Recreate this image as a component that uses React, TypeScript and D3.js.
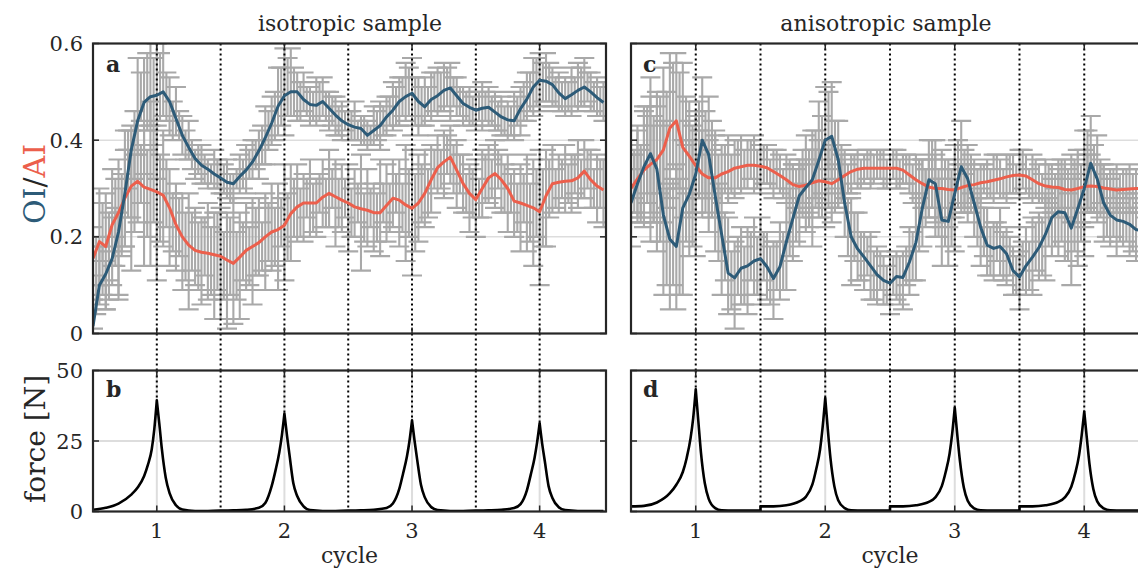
import React from 'react';
import * as d3 from 'd3';

// ---------- data ----------
// smoothed lines and first raw set: cycle grid 0.50, 0.55, ... 4.50
// second raw set: cycle grid 0.525, 0.575, ... 4.475
const X_START = 0.5;
const X_STEP = 0.05;
const X_START2 = 0.525;

const OI_A = [0.015,0.10,0.123,0.155,0.21,0.29,0.38,0.44,0.478,0.49, 0.493,0.50,0.48,0.445,0.41,0.385,0.362,0.348,0.34,0.33, 0.322,0.313,0.31,0.325,0.338,0.355,0.378,0.405,0.435,0.47, 0.492,0.50,0.50,0.484,0.474,0.472,0.48,0.466,0.452,0.44, 0.432,0.427,0.424,0.41,0.42,0.43,0.448,0.462,0.48,0.49, 0.497,0.48,0.469,0.484,0.492,0.503,0.508,0.492,0.476,0.468, 0.462,0.466,0.468,0.458,0.448,0.442,0.44,0.465,0.485,0.51, 0.524,0.522,0.515,0.498,0.486,0.494,0.503,0.51,0.50,0.488, 0.478];
const AI_A = [0.155,0.19,0.18,0.225,0.25,0.28,0.305,0.315,0.303,0.298, 0.293,0.286,0.26,0.225,0.2,0.183,0.172,0.168,0.166,0.163, 0.16,0.152,0.145,0.158,0.172,0.18,0.188,0.2,0.21,0.215, 0.224,0.248,0.262,0.27,0.27,0.27,0.282,0.29,0.283,0.276, 0.27,0.262,0.258,0.255,0.25,0.25,0.265,0.28,0.276,0.266, 0.259,0.27,0.29,0.318,0.343,0.355,0.365,0.338,0.31,0.29, 0.277,0.3,0.322,0.331,0.318,0.3,0.274,0.27,0.265,0.26, 0.252,0.285,0.31,0.313,0.315,0.316,0.322,0.336,0.318,0.305, 0.297];
const OI_A_RAW = [0.04,0.12,0.10,0.17,0.16,0.28,0.33,0.47,0.45,0.52, 0.46,0.53,0.47,0.46,0.41,0.40,0.35,0.35,0.33,0.34, 0.31,0.32,0.30,0.33,0.34,0.36,0.37,0.41,0.44,0.48, 0.50,0.52,0.49,0.50,0.47,0.48,0.49,0.46,0.45,0.44, 0.43,0.44,0.42,0.41,0.43,0.43,0.45,0.47,0.48,0.50, 0.49,0.47,0.48,0.49,0.50,0.51,0.50,0.49,0.47,0.47, 0.46,0.47,0.47,0.46,0.45,0.44,0.45,0.46,0.49,0.51, 0.52,0.53,0.51,0.50,0.49,0.50,0.51,0.52,0.50,0.49, 0.48];
const OI_A_ERR = [0.03,0.06,0.05,0.07,0.09,0.10,0.09,0.10,0.12,0.09, 0.14,0.08,0.06,0.05,0.04,0.04,0.03,0.04,0.03,0.04, 0.05,0.04,0.03,0.04,0.05,0.04,0.05,0.06,0.05,0.07, 0.09,0.07,0.05,0.04,0.04,0.05,0.04,0.04,0.04,0.04, 0.03,0.04,0.03,0.03,0.04,0.05,0.04,0.05,0.05,0.06, 0.08,0.06,0.05,0.05,0.05,0.05,0.06,0.04,0.04,0.04, 0.04,0.05,0.04,0.04,0.04,0.04,0.05,0.05,0.05,0.06, 0.06,0.05,0.04,0.04,0.04,0.05,0.05,0.05,0.04,0.04, 0.04];
const OI_A_RAW2 = [0.08,0.13,0.12,0.20,0.23,0.36,0.39,0.49,0.50,0.48, 0.51,0.49,0.44,0.43,0.39,0.37,0.36,0.34,0.33,0.33, 0.32,0.30,0.32,0.33,0.35,0.37,0.39,0.42,0.45,0.49, 0.51,0.50,0.48,0.48,0.47,0.48,0.47,0.46,0.44,0.44, 0.43,0.42,0.42,0.41,0.43,0.44,0.46,0.47,0.49,0.50, 0.48,0.47,0.48,0.50,0.50,0.51,0.50,0.48,0.47,0.46, 0.47,0.47,0.46,0.45,0.44,0.44,0.46,0.48,0.50,0.52, 0.52,0.52,0.50,0.49,0.49,0.50,0.51,0.51,0.49,0.48];
const OI_A_ERR2 = [0.04,0.05,0.05,0.06,0.07,0.06,0.07,0.05,0.08,0.09, 0.07,0.05,0.04,0.03,0.03,0.03,0.03,0.03,0.02,0.03, 0.03,0.03,0.02,0.03,0.03,0.03,0.04,0.04,0.05,0.06, 0.06,0.05,0.04,0.03,0.03,0.04,0.03,0.03,0.03,0.02, 0.03,0.02,0.03,0.02,0.03,0.03,0.03,0.04,0.04,0.05, 0.05,0.04,0.03,0.04,0.04,0.04,0.03,0.03,0.03,0.03, 0.03,0.03,0.03,0.03,0.03,0.03,0.03,0.04,0.04,0.05, 0.04,0.04,0.03,0.03,0.03,0.03,0.04,0.03,0.03,0.03];
const AI_A_RAW = [0.16,0.20,0.17,0.24,0.22,0.30,0.28,0.33,0.28,0.31, 0.27,0.30,0.24,0.22,0.19,0.17,0.18,0.15,0.17,0.14, 0.16,0.13,0.15,0.14,0.18,0.17,0.20,0.19,0.22,0.20, 0.23,0.25,0.27,0.26,0.28,0.26,0.29,0.30,0.27,0.28, 0.26,0.27,0.25,0.26,0.24,0.26,0.27,0.29,0.27,0.27, 0.25,0.28,0.30,0.32,0.35,0.35,0.37,0.33,0.31,0.28, 0.28,0.31,0.33,0.33,0.31,0.29,0.27,0.26,0.27,0.25, 0.24,0.28,0.32,0.31,0.32,0.31,0.33,0.34,0.32,0.30, 0.29];
const AI_A_ERR = [0.06,0.10,0.12,0.10,0.14,0.12,0.15,0.10,0.14,0.17, 0.16,0.12,0.10,0.09,0.10,0.12,0.08,0.09,0.10,0.11, 0.13,0.12,0.13,0.11,0.09,0.11,0.08,0.10,0.09,0.11, 0.12,0.10,0.08,0.07,0.08,0.06,0.07,0.08,0.09,0.07, 0.09,0.07,0.12,0.08,0.07,0.10,0.08,0.07,0.09,0.12, 0.13,0.09,0.08,0.07,0.06,0.07,0.06,0.07,0.06,0.07, 0.08,0.07,0.06,0.07,0.06,0.08,0.07,0.09,0.10,0.11, 0.14,0.10,0.07,0.06,0.07,0.06,0.07,0.06,0.06,0.07, 0.07];
const AI_A_RAW2 = [0.15,0.21,0.18,0.26,0.25,0.31,0.29,0.33,0.29,0.31, 0.28,0.29,0.23,0.22,0.18,0.19,0.16,0.18,0.15,0.17, 0.14,0.16,0.14,0.17,0.16,0.19,0.18,0.21,0.20,0.23, 0.22,0.26,0.25,0.28,0.26,0.29,0.27,0.30,0.27,0.28, 0.25,0.27,0.24,0.26,0.24,0.27,0.26,0.29,0.26,0.27, 0.25,0.29,0.29,0.34,0.34,0.37,0.34,0.33,0.29,0.29, 0.28,0.32,0.32,0.34,0.30,0.29,0.26,0.28,0.25,0.27, 0.26,0.30,0.30,0.32,0.31,0.33,0.32,0.34,0.30,0.31];
const AI_A_ERR2 = [0.05,0.06,0.07,0.06,0.08,0.07,0.08,0.06,0.09,0.08, 0.09,0.07,0.06,0.06,0.07,0.06,0.07,0.06,0.07,0.08, 0.07,0.08,0.07,0.06,0.06,0.07,0.05,0.06,0.06,0.05, 0.07,0.06,0.05,0.04,0.05,0.04,0.05,0.04,0.05,0.04, 0.05,0.04,0.05,0.04,0.05,0.04,0.05,0.04,0.05,0.07, 0.08,0.06,0.05,0.04,0.04,0.04,0.05,0.04,0.04,0.05, 0.04,0.05,0.04,0.04,0.05,0.04,0.05,0.05,0.06,0.07, 0.08,0.06,0.04,0.04,0.04,0.04,0.04,0.04,0.04,0.05];

const OI_C = [0.27,0.31,0.345,0.372,0.34,0.245,0.195,0.18,0.26,0.288, 0.33,0.40,0.37,0.285,0.205,0.125,0.115,0.135,0.14,0.15, 0.155,0.138,0.114,0.138,0.19,0.238,0.285,0.302,0.318,0.358, 0.40,0.408,0.36,0.27,0.20,0.175,0.158,0.14,0.122,0.11, 0.104,0.118,0.116,0.148,0.188,0.26,0.318,0.31,0.235,0.232, 0.29,0.345,0.32,0.27,0.22,0.183,0.176,0.18,0.165,0.13, 0.117,0.14,0.158,0.178,0.205,0.24,0.252,0.25,0.218,0.258, 0.30,0.352,0.32,0.27,0.245,0.235,0.232,0.226,0.215,0.212, 0.21];
const AI_C = [0.30,0.32,0.338,0.35,0.36,0.38,0.425,0.44,0.385,0.367, 0.347,0.33,0.322,0.322,0.33,0.335,0.342,0.345,0.348,0.348, 0.346,0.343,0.335,0.327,0.318,0.308,0.304,0.307,0.312,0.316, 0.314,0.31,0.318,0.327,0.335,0.34,0.342,0.342,0.342,0.342, 0.342,0.342,0.338,0.328,0.318,0.31,0.303,0.30,0.30,0.298, 0.297,0.302,0.306,0.308,0.312,0.314,0.317,0.32,0.324,0.327, 0.328,0.326,0.318,0.31,0.305,0.303,0.302,0.298,0.297,0.30, 0.304,0.305,0.304,0.301,0.299,0.297,0.298,0.299,0.30,0.30, 0.30];
const OI_C_RAW = [0.26,0.33,0.34,0.39,0.32,0.26,0.18,0.20,0.24,0.30, 0.31,0.41,0.35,0.29,0.19,0.14,0.10,0.14,0.13,0.16, 0.15,0.14,0.11,0.15,0.18,0.25,0.27,0.31,0.30,0.37, 0.39,0.42,0.35,0.28,0.19,0.18,0.15,0.14,0.12,0.11, 0.10,0.12,0.11,0.15,0.19,0.27,0.32,0.30,0.23,0.24, 0.28,0.35,0.31,0.27,0.22,0.19,0.17,0.19,0.16,0.13, 0.11,0.15,0.16,0.18,0.20,0.24,0.25,0.25,0.21,0.26, 0.29,0.35,0.32,0.27,0.25,0.23,0.24,0.22,0.22,0.21, 0.21];
const OI_C_ERR = [0.08,0.10,0.12,0.14,0.15,0.18,0.13,0.15,0.16,0.14, 0.15,0.12,0.14,0.12,0.11,0.10,0.09,0.08,0.09,0.08, 0.09,0.07,0.08,0.08,0.09,0.10,0.09,0.10,0.12,0.11, 0.12,0.10,0.09,0.08,0.09,0.07,0.06,0.07,0.06,0.05, 0.06,0.05,0.06,0.07,0.08,0.09,0.08,0.10,0.09,0.10, 0.11,0.09,0.08,0.07,0.08,0.07,0.06,0.07,0.06,0.05, 0.06,0.07,0.08,0.07,0.09,0.08,0.09,0.10,0.11,0.12, 0.13,0.10,0.09,0.08,0.07,0.07,0.06,0.06,0.07,0.06, 0.06];
const OI_C_RAW2 = [0.31,0.31,0.38,0.33,0.31,0.20,0.21,0.20,0.29,0.29, 0.38,0.37,0.34,0.23,0.18,0.11,0.14,0.12,0.16,0.14, 0.16,0.12,0.14,0.15,0.23,0.25,0.31,0.30,0.35,0.37, 0.42,0.37,0.33,0.22,0.20,0.16,0.16,0.12,0.13,0.10, 0.12,0.11,0.14,0.16,0.23,0.28,0.33,0.26,0.25,0.25, 0.33,0.32,0.31,0.23,0.21,0.17,0.19,0.16,0.16,0.12, 0.14,0.14,0.18,0.18,0.23,0.24,0.26,0.22,0.25,0.27, 0.34,0.32,0.30,0.25,0.25,0.23,0.24,0.21,0.22,0.20];
const OI_C_ERR2 = [0.06,0.08,0.09,0.10,0.12,0.10,0.11,0.12,0.10,0.11, 0.10,0.09,0.10,0.08,0.07,0.06,0.06,0.06,0.05,0.06, 0.05,0.06,0.05,0.06,0.07,0.06,0.07,0.08,0.07,0.08, 0.08,0.07,0.06,0.06,0.05,0.05,0.04,0.05,0.04,0.04, 0.04,0.05,0.04,0.05,0.06,0.06,0.07,0.06,0.07,0.07, 0.07,0.06,0.06,0.05,0.05,0.05,0.04,0.05,0.04,0.04, 0.05,0.05,0.05,0.06,0.05,0.06,0.07,0.07,0.08,0.08, 0.08,0.07,0.06,0.05,0.05,0.04,0.05,0.04,0.04,0.04];
const AI_C_RAW = [0.31,0.33,0.35,0.34,0.37,0.39,0.43,0.44,0.40,0.36, 0.35,0.33,0.32,0.33,0.33,0.34,0.34,0.35,0.35,0.35, 0.34,0.35,0.33,0.33,0.32,0.31,0.30,0.31,0.31,0.32, 0.31,0.31,0.32,0.33,0.33,0.34,0.34,0.34,0.35,0.34, 0.34,0.34,0.34,0.33,0.32,0.31,0.30,0.30,0.30,0.29, 0.30,0.30,0.31,0.31,0.31,0.32,0.32,0.32,0.32,0.33, 0.33,0.33,0.32,0.31,0.31,0.30,0.30,0.30,0.30,0.30, 0.30,0.31,0.30,0.30,0.30,0.30,0.30,0.30,0.30,0.30, 0.30];
const AI_C_ERR = [0.06,0.09,0.12,0.15,0.13,0.16,0.15,0.14,0.16,0.12, 0.10,0.09,0.08,0.09,0.06,0.07,0.06,0.06,0.05,0.06, 0.05,0.04,0.05,0.04,0.05,0.04,0.05,0.05,0.07,0.08, 0.09,0.08,0.06,0.05,0.04,0.04,0.03,0.04,0.03,0.04, 0.03,0.04,0.03,0.04,0.05,0.05,0.06,0.07,0.08,0.07, 0.06,0.05,0.04,0.05,0.04,0.04,0.05,0.04,0.05,0.04, 0.05,0.04,0.05,0.04,0.05,0.05,0.06,0.06,0.07,0.07, 0.08,0.06,0.05,0.05,0.04,0.05,0.04,0.05,0.04,0.05, 0.04];
const AI_C_RAW2 = [0.33,0.31,0.36,0.34,0.39,0.38,0.45,0.42,0.39,0.34, 0.35,0.31,0.33,0.31,0.34,0.33,0.35,0.34,0.36,0.34, 0.35,0.33,0.34,0.31,0.32,0.30,0.31,0.30,0.32,0.30, 0.32,0.30,0.33,0.32,0.34,0.33,0.35,0.34,0.35,0.33, 0.35,0.33,0.34,0.31,0.32,0.30,0.31,0.29,0.31,0.29, 0.31,0.29,0.32,0.30,0.32,0.31,0.33,0.31,0.33,0.32, 0.34,0.31,0.32,0.30,0.31,0.29,0.31,0.29,0.31,0.29, 0.31,0.30,0.31,0.29,0.31,0.29,0.31,0.29,0.31,0.29];
const AI_C_ERR2 = [0.05,0.07,0.09,0.11,0.10,0.12,0.11,0.12,0.10,0.09, 0.07,0.06,0.05,0.06,0.05,0.04,0.05,0.04,0.04,0.04, 0.04,0.03,0.04,0.03,0.04,0.04,0.04,0.05,0.06,0.06, 0.06,0.05,0.04,0.03,0.03,0.03,0.03,0.03,0.03,0.03, 0.03,0.03,0.03,0.04,0.04,0.04,0.05,0.05,0.05,0.05, 0.04,0.04,0.03,0.04,0.03,0.03,0.04,0.03,0.04,0.03, 0.04,0.03,0.04,0.03,0.04,0.04,0.05,0.05,0.05,0.06, 0.06,0.05,0.04,0.04,0.03,0.04,0.03,0.04,0.03,0.04];

// force: sampled at cycle + offset, one array per cycle
const CYCLES = [1, 2, 3, 4];
const FORCE_OFFSETS = [-0.5,-0.4,-0.3,-0.2,-0.15,-0.1,-0.07,-0.04,-0.02,0,0.02,0.04,0.07,0.1,0.15,0.2,0.3,0.4,0.5];
const FORCE_B = [
  [0.6,1.3,2.8,6,8.5,12.5,16.5,22,29,39.4,31,22,12,6.5,2.2,0.7,0.2,0.2,0.3],
  [0.3,0.4,0.6,1.3,3,9,14.5,21,27,34.7,27,20,10,5.5,1.8,0.5,0.2,0.2,0.3],
  [0.3,0.4,0.6,1.2,2.8,8,13.5,19.5,25,32.3,25,18.5,9.5,5,1.6,0.5,0.2,0.2,0.3],
  [0.3,0.4,0.6,1.2,2.6,7.5,13,19,24.5,31.3,24,18,9,4.8,1.5,0.5,0.2,0.2,0.2],
];
const FORCE_D = [
  [1.8,2.0,3.2,6.5,9.5,14,19,26,33,43.3,32,21,10,4.5,1.2,0.4,0.3,0.3,0.3],
  [1.8,1.8,2.2,3.6,5.2,9.5,15,22,30,40.2,29,19,9,4,1.2,0.4,0.3,0.3,0.3],
  [1.8,1.8,2.2,3.4,5,9,14,20.5,27.5,36.8,27,18,8.5,3.8,1.1,0.4,0.3,0.3,0.3],
  [1.8,1.8,2.2,3.4,5,8.8,13.5,20,27,35.4,26,17,8,3.6,1.1,0.4,0.3,0.3,0.3],
];

const Y_TICKS_TOP = [0, 0.2, 0.4, 0.6];
const Y_TICKS_BOT = [0, 25, 50];
const X_TICKS = [1, 2, 3, 4];
const DOTTED = [1, 1.5, 2, 2.5, 3, 3.5, 4];

// ---------- style ----------
const FONT = '"DejaVu Serif", serif';
const BLUE = '#2d5b78';
const RED = '#ec5f4c';
const GREY = '#a9a9a9';
const GRID = '#dddddd';
const FRAME = '#262626';
const CAP = 10;

const grid = (start: number, n: number) => d3.range(n).map(i => start + i * X_STEP);

function errPath(x: any, y: any, start: number, vals: number[], errs: number[]) {
  const xs = grid(start, vals.length);
  const p = d3.path();
  vals.forEach((v, i) => {
    const cx = x(xs[i]);
    const lo = y(v - errs[i]);
    const hi = y(v + errs[i]);
    p.moveTo(cx, lo); p.lineTo(cx, hi);
    p.moveTo(cx - CAP, lo); p.lineTo(cx + CAP, lo);
    p.moveTo(cx - CAP, hi); p.lineTo(cx + CAP, hi);
  });
  return p.toString();
}

function Frame({ x, y, yTicks }: any) {
  const [x0, x1] = x.range();
  const [y0, y1] = y.range();
  return (
    <g>
      {yTicks.map((t: number) => (
        <g key={'yt' + t}>
          <line x1={x0} x2={x0 + 6} y1={y(t)} y2={y(t)} stroke={FRAME} strokeWidth={1.5} />
          <line x1={x1} x2={x1 - 6} y1={y(t)} y2={y(t)} stroke={FRAME} strokeWidth={1.5} />
        </g>
      ))}
      {X_TICKS.map(t => (
        <g key={'xt' + t}>
          <line x1={x(t)} x2={x(t)} y1={y0} y2={y0 - 6} stroke={FRAME} strokeWidth={1.5} />
          <line x1={x(t)} x2={x(t)} y1={y1} y2={y1 + 6} stroke={FRAME} strokeWidth={1.5} />
        </g>
      ))}
      <rect x={x0} y={y1} width={x1 - x0} height={y0 - y1} fill="none" stroke={FRAME} strokeWidth={2.2} />
    </g>
  );
}

function TopPanel({ x, y, oi, ai, raws, id }: any) {
  const xs = grid(X_START, oi.length);
  const line = d3.line<number>().x((_, i) => x(xs[i])).y(d => y(d));
  const [x0, x1] = x.range();
  const [y0, y1] = y.range();
  return (
    <g>
      <defs>
        <clipPath id={id}><rect x={x0} y={y1} width={x1 - x0} height={y0 - y1} /></clipPath>
      </defs>
      <g clipPath={`url(#${id})`}>
        {[0.2, 0.4].map(t => (
          <line key={t} x1={x0} x2={x1} y1={y(t)} y2={y(t)} stroke={GRID} strokeWidth={1.5} />
        ))}
        {raws.map((r: any, i: number) => (
          <path key={i} d={errPath(x, y, r[0], r[1], r[2])} stroke={GREY} strokeWidth={2.1} fill="none" />
        ))}
        {DOTTED.map(t => (
          <line key={t} x1={x(t)} x2={x(t)} y1={y1} y2={y0} stroke="#000" strokeWidth={2} strokeDasharray="2 3" />
        ))}
        <path d={line(ai) || ''} stroke={RED} strokeWidth={3} fill="none" strokeLinejoin="round" />
        <path d={line(oi) || ''} stroke={BLUE} strokeWidth={3} fill="none" strokeLinejoin="round" />
      </g>
      <Frame x={x} y={y} yTicks={Y_TICKS_TOP} />
    </g>
  );
}

function BottomPanel({ x, y, force, id }: any) {
  const line = d3.line<[number, number]>().x(d => x(d[0])).y(d => y(d[1])).curve(d3.curveMonotoneX);
  const peakIdx = FORCE_OFFSETS.indexOf(0);
  let d = '';
  CYCLES.forEach((c, k) => {
    const pts: [number, number][] = FORCE_OFFSETS.map((o, i) => [c + o, force[k][i]]);
    const rise = line(pts.slice(0, peakIdx + 1)) || '';
    const fall = line(pts.slice(peakIdx)) || '';
    d += (k === 0 ? rise : 'L' + rise.slice(1)) + 'L' + fall.slice(1);
  });
  const [x0, x1] = x.range();
  const [y0, y1] = y.range();
  return (
    <g>
      <defs>
        <clipPath id={id}><rect x={x0} y={y1} width={x1 - x0} height={y0 - y1} /></clipPath>
      </defs>
      <g clipPath={`url(#${id})`}>
        <line x1={x0} x2={x1} y1={y(25)} y2={y(25)} stroke={GRID} strokeWidth={2} />
        {X_TICKS.map(t => (
          <line key={t} x1={x(t)} x2={x(t)} y1={y1} y2={y0} stroke={GRID} strokeWidth={2} />
        ))}
        {DOTTED.map(t => {
          const k = CYCLES.indexOf(t);
          const end = k >= 0 ? y(force[k][peakIdx]) : y0;
          return <line key={t} x1={x(t)} x2={x(t)} y1={y1} y2={end} stroke="#000" strokeWidth={2} strokeDasharray="2 3" />;
        })}
        <path d={d} stroke="#000" strokeWidth={2.6} fill="none" strokeLinejoin="round" />
      </g>
      <Frame x={x} y={y} yTicks={Y_TICKS_BOT} />
    </g>
  );
}

export default function App() {
  const xA = d3.scaleLinear().domain([0.5, 4.52]).range([93, 606]);
  const xC = d3.scaleLinear().domain([0.5, 4.5]).range([631, 1149]);
  const yTop = d3.scaleLinear().domain([0, 0.6]).range([333.5, 43.5]);
  const yBot = d3.scaleLinear().domain([0, 50]).range([511.5, 370.5]);

  const gap = (x: any) => DOTTED.map(t => (
    <line key={t} x1={x(t)} x2={x(t)} y1={yTop(0)} y2={yBot(50)} stroke="#000" strokeWidth={2} strokeDasharray="2 3" />
  ));

  const rawsA = [
    [X_START, OI_A_RAW, OI_A_ERR], [X_START2, OI_A_RAW2, OI_A_ERR2],
    [X_START, AI_A_RAW, AI_A_ERR], [X_START2, AI_A_RAW2, AI_A_ERR2],
  ];
  const rawsC = [
    [X_START, OI_C_RAW, OI_C_ERR], [X_START2, OI_C_RAW2, OI_C_ERR2],
    [X_START, AI_C_RAW, AI_C_ERR], [X_START2, AI_C_RAW2, AI_C_ERR2],
  ];

  return (
    <svg width={1138} height={569} style={{ position: 'absolute', left: 0, top: 0, background: '#fff' }}
      fontFamily={FONT} fill="#262626">
      <rect width={1138} height={569} fill="#fff" />
      {gap(xA)}
      {gap(xC)}
      <TopPanel x={xA} y={yTop} oi={OI_A} ai={AI_A} raws={rawsA} id="clipA" />
      <TopPanel x={xC} y={yTop} oi={OI_C} ai={AI_C} raws={rawsC} id="clipC" />
      <BottomPanel x={xA} y={yBot} force={FORCE_B} id="clipB" />
      <BottomPanel x={xC} y={yBot} force={FORCE_D} id="clipD" />

      {/* titles */}
      <text x={350} y={31} fontSize={22} textAnchor="middle">isotropic sample</text>
      <text x={886} y={31} fontSize={22} textAnchor="middle">anisotropic sample</text>

      {/* panel letters */}
      <text x={106} y={72} fontSize={22} fontWeight="bold">a</text>
      <text x={106} y={397} fontSize={22} fontWeight="bold">b</text>
      <text x={643} y={72} fontSize={22} fontWeight="bold">c</text>
      <text x={643} y={397} fontSize={22} fontWeight="bold">d</text>

      {/* y tick labels */}
      {Y_TICKS_TOP.map(t => (
        <text key={'ya' + t} x={83} y={yTop(t)} dy="0.36em" fontSize={21} textAnchor="end">{t === 0 ? '0' : t.toFixed(1)}</text>
      ))}
      {Y_TICKS_BOT.map(t => (
        <text key={'yb' + t} x={83} y={yBot(t)} dy="0.36em" fontSize={21} textAnchor="end">{t}</text>
      ))}

      {/* x tick labels */}
      {X_TICKS.map(t => (
        <text key={'xa' + t} x={xA(t)} y={538} fontSize={21} textAnchor="middle">{t}</text>
      ))}
      {X_TICKS.map(t => (
        <text key={'xc' + t} x={xC(t)} y={538} fontSize={21} textAnchor="middle">{t}</text>
      ))}
      <text x={(93 + 606) / 2} y={563} fontSize={22} textAnchor="middle">cycle</text>
      <text x={890} y={563} fontSize={22} textAnchor="middle">cycle</text>

      {/* y axis labels */}
      <text transform="translate(45, 184) rotate(-90)" fontSize={30} textAnchor="middle">
        <tspan fill={BLUE}>OI</tspan><tspan fill="#262626">/</tspan><tspan fill={RED}>AI</tspan>
      </text>
      <text transform="translate(45, 439) rotate(-90)" fontSize={28} textAnchor="middle">force [N]</text>
    </svg>
  );
}
